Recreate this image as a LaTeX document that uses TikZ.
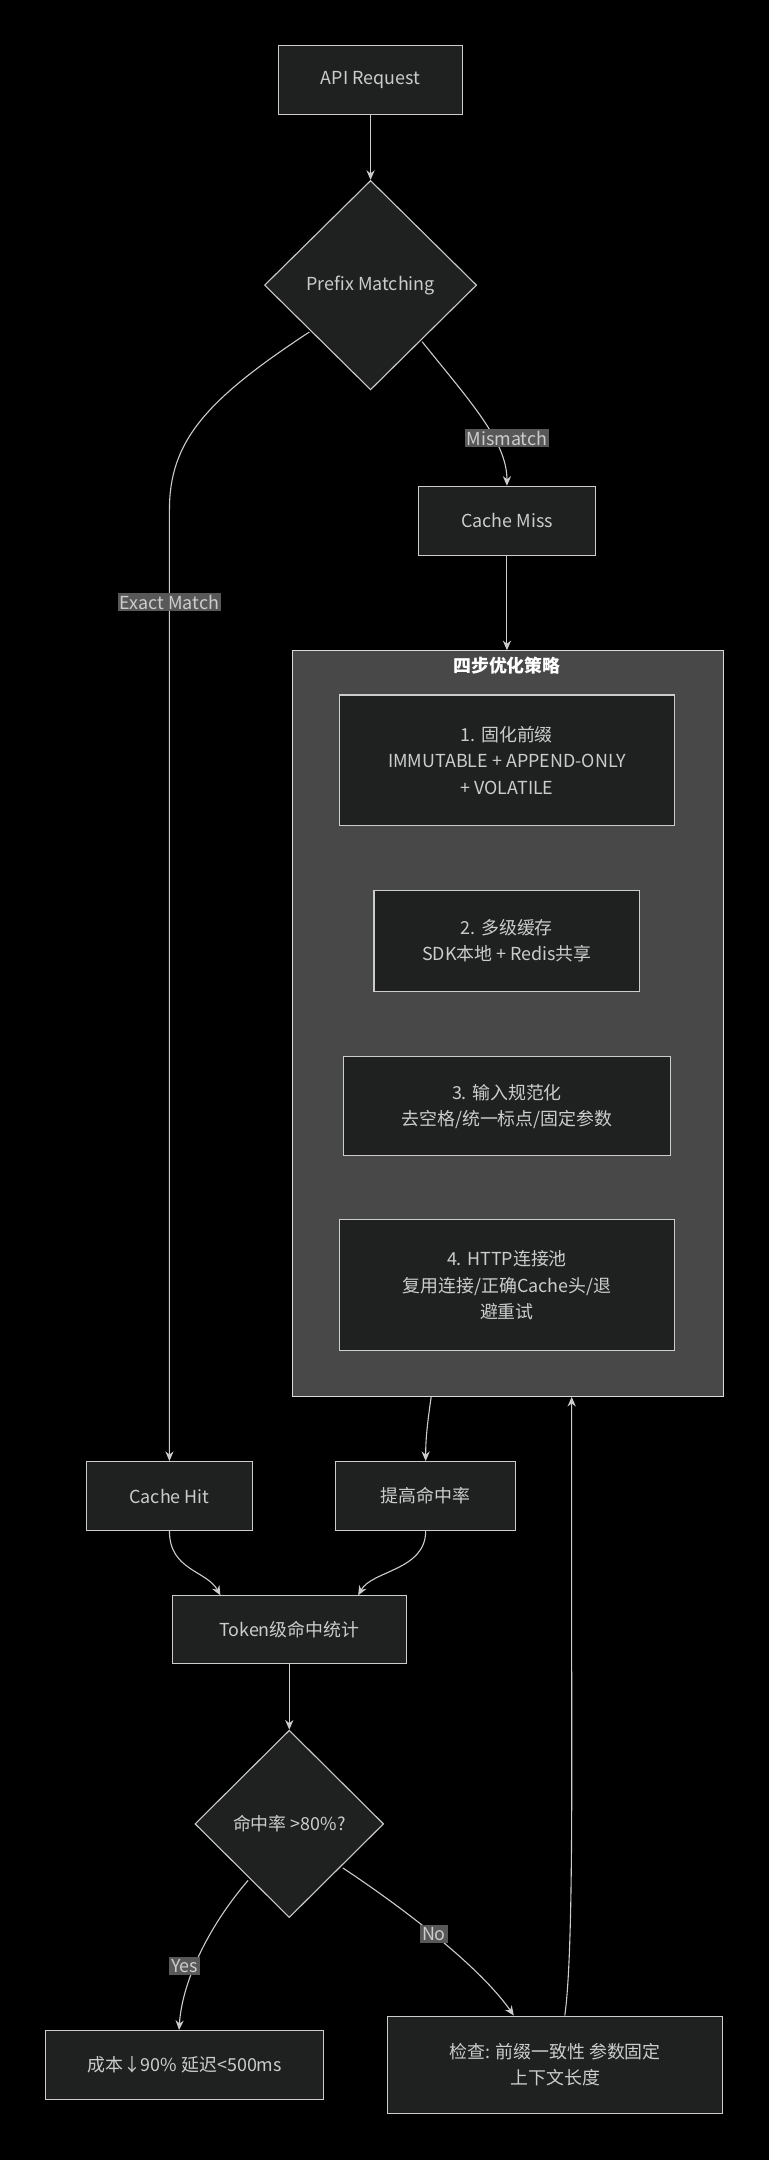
\documentclass[tikz,border=0pt]{standalone}
\usepackage{fontspec}
\setmainfont{Noto Sans CJK SC}
\usetikzlibrary{shapes.geometric,arrows.meta}
\definecolor{bg}{HTML}{000000}
\definecolor{nodefill}{HTML}{1F2020}
\definecolor{edge}{HTML}{CCCCCC}
\definecolor{txt}{HTML}{CCCCCC}
\definecolor{clus}{HTML}{484848}
\definecolor{lab}{HTML}{585858}
\tikzset{
  x=1pt,y=-1pt,
  box/.style={draw=edge,fill=nodefill,text=txt,line width=0.8pt,align=center,inner sep=0pt,font=\fontsize{13}{19}\selectfont},
  dia/.style={draw=edge,fill=nodefill,text=txt,line width=0.8pt,diamond,aspect=1,inner sep=0pt,font=\fontsize{13}{16}\selectfont},
  conn/.style={draw=edge,line width=0.8pt,-{Stealth[length=7pt,width=6pt]}},
  elab/.style={fill=lab,text=txt,inner sep=1.5pt,font=\fontsize{13}{15}\selectfont}
}
\begin{document}
\begin{tikzpicture}
\fill[bg] (0,0) rectangle (558,1568);
\useasboundingbox (0,0) rectangle (558,1568);
\fill[clus,draw=edge!70,line width=0.6pt] (212,472) rectangle (525,1014);
\node[text=white,font=\fontsize{13}{15}\selectfont\bfseries] (ctitle) at (368,483) {四步优化策略};
\coordinate (ctop) at (368,472);
\coordinate (cbotL) at (313,1014);
\coordinate (cbotR) at (415,1014);

\node[box,minimum width=134,minimum height=50] (api) at (269,58) {API Request};
\node[dia,minimum width=154,minimum height=152] (pm) at (269,207) {Prefix Matching};
\node[box,minimum width=128,minimum height=50] (miss) at (368,378) {Cache Miss};
\node[box,minimum width=243,minimum height=95] (s1) at (368,552) {1. 固化前缀\\IMMUTABLE + APPEND-ONLY\\+ VOLATILE};
\node[box,minimum width=193,minimum height=73] (s2) at (368,683) {2. 多级缓存\\SDK本地 + Redis共享};
\node[box,minimum width=237,minimum height=72] (s3) at (368,803) {3. 输入规范化\\去空格/统一标点/固定参数};
\node[box,minimum width=243,minimum height=95] (s4) at (368,933) {4. HTTP连接池\\复用连接/正确Cache头/退\\避重试};
\node[box,minimum width=121,minimum height=50] (hit) at (123,1086) {Cache Hit};
\node[box,minimum width=131,minimum height=50] (up) at (309,1086) {提高命中率};
\node[box,minimum width=170,minimum height=49] (tok) at (210,1183) {Token级命中统计};
\node[dia,minimum width=137,minimum height=136] (rate) at (210,1324) {命中率 >80\%?};
\node[box,minimum width=202,minimum height=50] (cost) at (134,1499) {成本↓90\% 延迟<500ms};
\node[box,minimum width=243,minimum height=71] (chk) at (403,1499) {检查: 前缀一致性 参数固定\\上下文长度};

\draw[conn] (api) -- (pm);
\draw[conn] (pm.east) ++(-40,41) .. controls (340,290) and (368,320) .. (miss.north);
\node[elab] (l1) at (368,318) {Mismatch};
\draw[conn] (pm.west) ++(33,34) .. controls (150,290) and (123,320) .. (123,370) -- (hit.north);
\node[elab] (l2) at (123,437) {Exact Match};
\draw[conn] (miss) -- (ctop);
\draw[conn] (cbotL) .. controls (310,1035) and (309,1045) .. (up.north);
\draw[conn] (hit.south) .. controls (123,1140) and (150,1140) .. (tok.north -| 160,0);
\draw[conn] (up.south) .. controls (309,1140) and (270,1140) .. (tok.north -| 260,0);
\draw[conn] (tok) -- (rate);
\draw[conn] (rate.west) ++(39,41) .. controls (150,1400) and (132,1440) .. (cost.north -| 130,0);
\node[elab] (l3) at (134,1427) {Yes};
\draw[conn] (rate.east) ++(-30,32) .. controls (300,1390) and (350,1430) .. (chk.north -| 373,0);
\node[elab] (l4) at (315,1404) {No};
\draw[conn] (chk.north -| 410,0) .. controls (416,1420) and (415,1300) .. (415,1200) -- (cbotR);
\end{tikzpicture}
\end{document}
